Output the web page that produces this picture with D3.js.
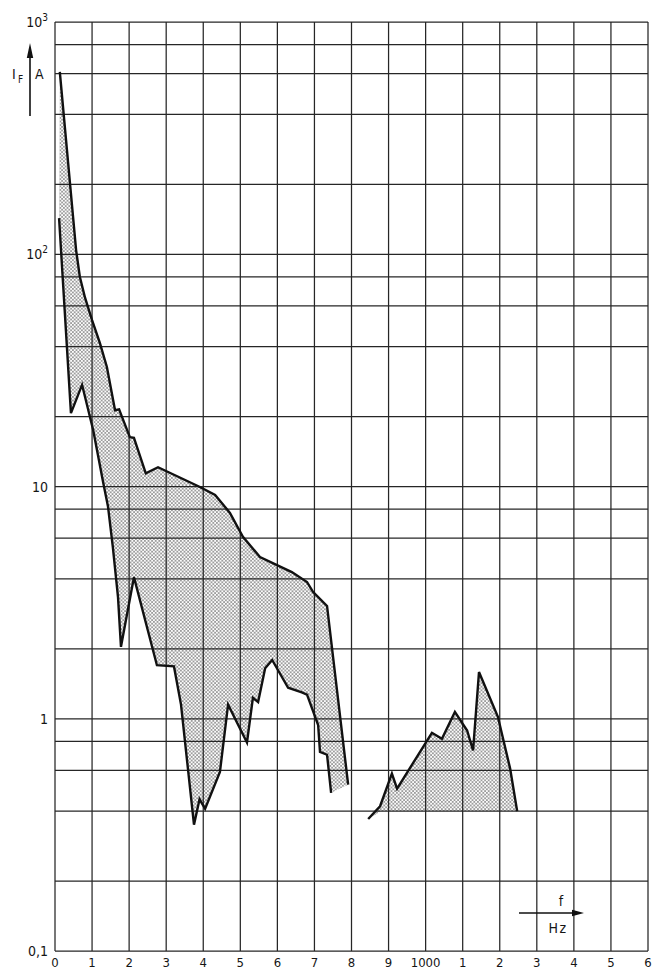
<!DOCTYPE html>
<html>
<head>
<meta charset="utf-8">
<script src="https://cdn.jsdelivr.net/npm/d3@7/dist/d3.min.js"></script>
<style>
  html, body { margin: 0; padding: 0; background: #fff; }
  svg { display: block; }
  text { font-family: "DejaVu Sans", "Liberation Sans Narrow", sans-serif; font-stretch: condensed; fill: #151515; }
</style>
</head>
<body>
<svg id="chart" width="661" height="971"></svg>
<script>
// Frequency ticks (Hz) and their printed labels
const xTicks = [0,100,200,300,400,500,600,700,800,900,1000,1100,1200,1300,1400,1500,1600];
const xTickLabels = ["0","1","2","3","4","5","6","7","8","9","1000","1","2","3","4","5","6"];

// Current grid (A): 1, 2, 4, 6, 8 in every decade
const yDecades = [0.1, 1, 10, 100, 1000];
const yGridMultipliers = [1, 2, 4, 6, 8];

// Upper envelope of fault current, main band
const upperF = [13, 57, 67, 81, 100, 121, 140, 162, 173, 181, 202, 213, 245, 278, 391, 432, 472, 507, 553, 599, 639, 680, 696, 734, 791];
const upperI = [610, 104, 80, 65, 52, 41.5, 32.7, 21.3, 21.5, 19.9, 16.3, 16.2, 11.4, 12.1, 9.95, 9.2, 7.7, 6.07, 4.97, 4.59, 4.28, 3.88, 3.52, 3.06, 0.52];

// Lower envelope of fault current, main band
const lowerF = [11, 43, 73, 103, 130, 143, 156, 170, 178, 213, 275, 321, 340, 375, 390, 405, 445, 467, 518, 534, 548, 567, 586, 629, 666, 680, 710, 715, 734, 745];
const lowerI = [143, 20.7, 27.4, 17.5, 10.4, 8.2, 5.5, 3.34, 2.04, 4.07, 1.70, 1.68, 1.15, 0.35, 0.45, 0.41, 0.59, 1.15, 0.79, 1.23, 1.18, 1.65, 1.79, 1.36, 1.30, 1.27, 0.94, 0.72, 0.70, 0.48];

// Second band around 1 kHz
const upper2F = [845, 877, 909, 923, 1017, 1044, 1079, 1112, 1128, 1144, 1195, 1228, 1247];
const upper2I = [0.37, 0.42, 0.58, 0.50, 0.87, 0.82, 1.07, 0.89, 0.73, 1.59, 1.02, 0.61, 0.40];
const lower2F = [845, 880, 1247];
const lower2I = [0.37, 0.40, 0.40];

const svg = d3.select("#chart");
const x = d3.scaleLinear().domain([0, 1600]).range([55, 648]);
const y = d3.scaleLog().domain([0.1, 1000]).range([951, 22]);

// Stipple pattern for the shaded bands
const defs = svg.append("defs");
const pat = defs.append("pattern")
  .attr("id", "stipple").attr("patternUnits", "userSpaceOnUse")
  .attr("width", 3.6).attr("height", 3.6);
pat.append("rect").attr("width", 3.6).attr("height", 3.6).attr("fill", "#fbfbfb");
pat.append("circle").attr("cx", 0.9).attr("cy", 0.9).attr("r", 0.72).attr("fill", "#262626");
pat.append("circle").attr("cx", 2.7).attr("cy", 2.7).attr("r", 0.72).attr("fill", "#262626");

const zip = (fs, is) => fs.map((f, i) => [f, is[i]]);
const upper = zip(upperF, upperI);
const lower = zip(lowerF, lowerI);
const upper2 = zip(upper2F, upper2I);
const lower2 = zip(lower2F, lower2I);

const line = d3.line().x(d => x(d[0])).y(d => y(d[1]));

// Shaded bands
svg.append("path")
  .attr("d", line(upper.concat(lower.slice().reverse())) + "Z")
  .attr("fill", "url(#stipple)");
svg.append("path")
  .attr("d", line(upper2.concat(lower2.slice().reverse())) + "Z")
  .attr("fill", "url(#stipple)");

// Grid
const grid = svg.append("g").attr("stroke", "#262626").attr("stroke-width", 1.25).attr("fill", "none");
xTicks.forEach(t => {
  grid.append("line").attr("x1", x(t)).attr("x2", x(t)).attr("y1", y(1000)).attr("y2", y(0.1));
});
const yGrid = [];
yDecades.forEach(d => yGridMultipliers.forEach(m => { const v = d * m; if (v <= 1000) yGrid.push(v); }));
yGrid.forEach(v => {
  grid.append("line").attr("x1", x(0)).attr("x2", x(1600)).attr("y1", y(v)).attr("y2", y(v));
});

// Envelope curves
const curves = svg.append("g").attr("fill", "none").attr("stroke", "#111")
  .attr("stroke-width", 2.4).attr("stroke-linejoin", "miter").attr("stroke-miterlimit", 4);
curves.append("path").attr("d", line(upper));
curves.append("path").attr("d", line(lower));
curves.append("path").attr("d", line(upper2));

// X tick labels
const xl = svg.append("g").attr("font-size", 13).attr("text-anchor", "middle");
xTicks.forEach((t, i) => {
  xl.append("text").attr("x", x(t)).attr("y", 967).text(xTickLabels[i]);
});

// Y decade labels
const yl = svg.append("g").attr("font-size", 14).attr("text-anchor", "end");
const yLab = (v, base, sup) => {
  const t = yl.append("text").attr("x", 48).attr("y", y(v) + 5);
  t.append("tspan").text(base);
  if (sup) t.append("tspan").attr("font-size", 10).attr("dy", -6).text(sup);
};
yLab(1000, "10", "3");
yLab(100, "10", "2");
yLab(10, "10");
yLab(1, "1");
yLab(0.1, "0,1");

// Current axis caption with arrow
const cap = svg.append("g");
cap.append("text").attr("x", 12).attr("y", 79).attr("font-size", 14).text("I");
cap.append("text").attr("x", 18).attr("y", 83).attr("font-size", 10).text("F");
cap.append("text").attr("x", 35).attr("y", 79).attr("font-size", 14).text("A");
cap.append("line").attr("x1", 30).attr("x2", 30).attr("y1", 116).attr("y2", 54)
  .attr("stroke", "#111").attr("stroke-width", 1.6);
cap.append("path").attr("d", "M30,43 L26.8,58 L33.2,58 Z").attr("fill", "#111");

// Frequency caption with arrow
const fc = svg.append("g");
fc.append("line").attr("x1", 519).attr("x2", 574).attr("y1", 913).attr("y2", 913)
  .attr("stroke", "#111").attr("stroke-width", 1.6);
fc.append("path").attr("d", "M584,913 L572,909.8 L572,916.2 Z").attr("fill", "#111");
fc.append("text").attr("x", 561).attr("y", 906).attr("font-size", 14).attr("text-anchor", "middle").text("f");
fc.append("text").attr("x", 558).attr("y", 933).attr("font-size", 14).attr("text-anchor", "middle")
  .attr("letter-spacing", 1.5).text("Hz");
</script>
</body>
</html>
